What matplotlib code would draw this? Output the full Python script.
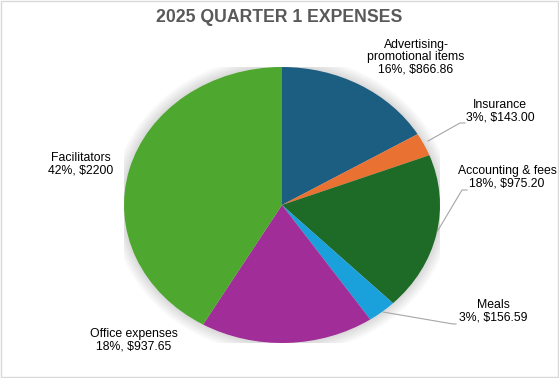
import matplotlib.pyplot as plt
from matplotlib.patches import Ellipse, Rectangle

plt.rcParams['font.family'] = ['Liberation Sans', 'DejaVu Sans']

# data
categories = ['Advertising-\npromotional items', 'Insurance', 'Accounting & fees',
              'Meals', 'Office expenses', 'Facilitators']
amounts = [866.86, 143.00, 975.20, 156.59, 937.65, 2200]
amount_labels = ['$866.86', '$143.00', '$975.20', '$156.59', '$937.65', '$2200']
colors = ['#1b5e82', '#e97132', '#1d6b27', '#1aa0da', '#a12d98', '#4ea72e']

W, H = 559, 378
fig = plt.figure(figsize=(W / 100, H / 100), dpi=100)

# pie drawn in its own axes so it can be stretched into an ellipse
cx, cy, rx, ry = 282, 205, 158, 138
pax = fig.add_axes([(cx - rx) / W, (H - cy - ry) / H, 2 * rx / W, 2 * ry / H])
for i in range(6):
    pax.add_patch(Ellipse((0, 0), 2 + 0.012 * (i + 1) * 2, 2 + 0.014 * (i + 1) * 2,
                          facecolor='#000000', alpha=0.025, edgecolor='none', zorder=0))
wedges, _ = pax.pie(amounts, colors=colors, startangle=90, counterclock=False,
                    radius=1, wedgeprops=dict(linewidth=0))
pax.set_aspect('auto')
pax.set_xlim(-1, 1)
pax.set_ylim(-1, 1)
pax.axis('off')

# overlay axes in pixel coordinates for labels
ax = fig.add_axes([0, 0, 1, 1], zorder=5)
ax.set_xlim(0, W)
ax.set_ylim(H, 0)
ax.axis('off')
ax.patch.set_alpha(0)
ax.add_patch(Rectangle((0.5, 0.5), W - 1.5, H - 1.5, fill=False, edgecolor='#d9d9d9', lw=1))

ax.text(279, 18, '2025 QUARTER 1 EXPENSES', ha='center', va='center',
        fontsize=12.7, fontweight='bold', color='#595959')

total = sum(amounts)
label_pos = [(416, 57), (500, 111.5), (507, 177.5), (493, 311.5), (134, 340.5), (81, 164)]
for name, amt, lab, (x, y) in zip(categories, amounts, amount_labels, label_pos):
    pct = round(100 * amt / total)
    ax.text(x, y, f'{name}\n{pct}%, {lab}', ha='center', va='center',
            fontsize=8.8, color='#000000', linespacing=1.05)

# leader lines
ax.plot([428, 460, 465], [141, 123, 123], color='#a6a6a6', lw=0.8)
ax.plot([437, 462, 467], [232, 190, 190], color='#a6a6a6', lw=0.8)
ax.plot([383, 453, 456], [312, 324, 324], color='#a6a6a6', lw=0.8)

fig.savefig('out.png', dpi=100)
